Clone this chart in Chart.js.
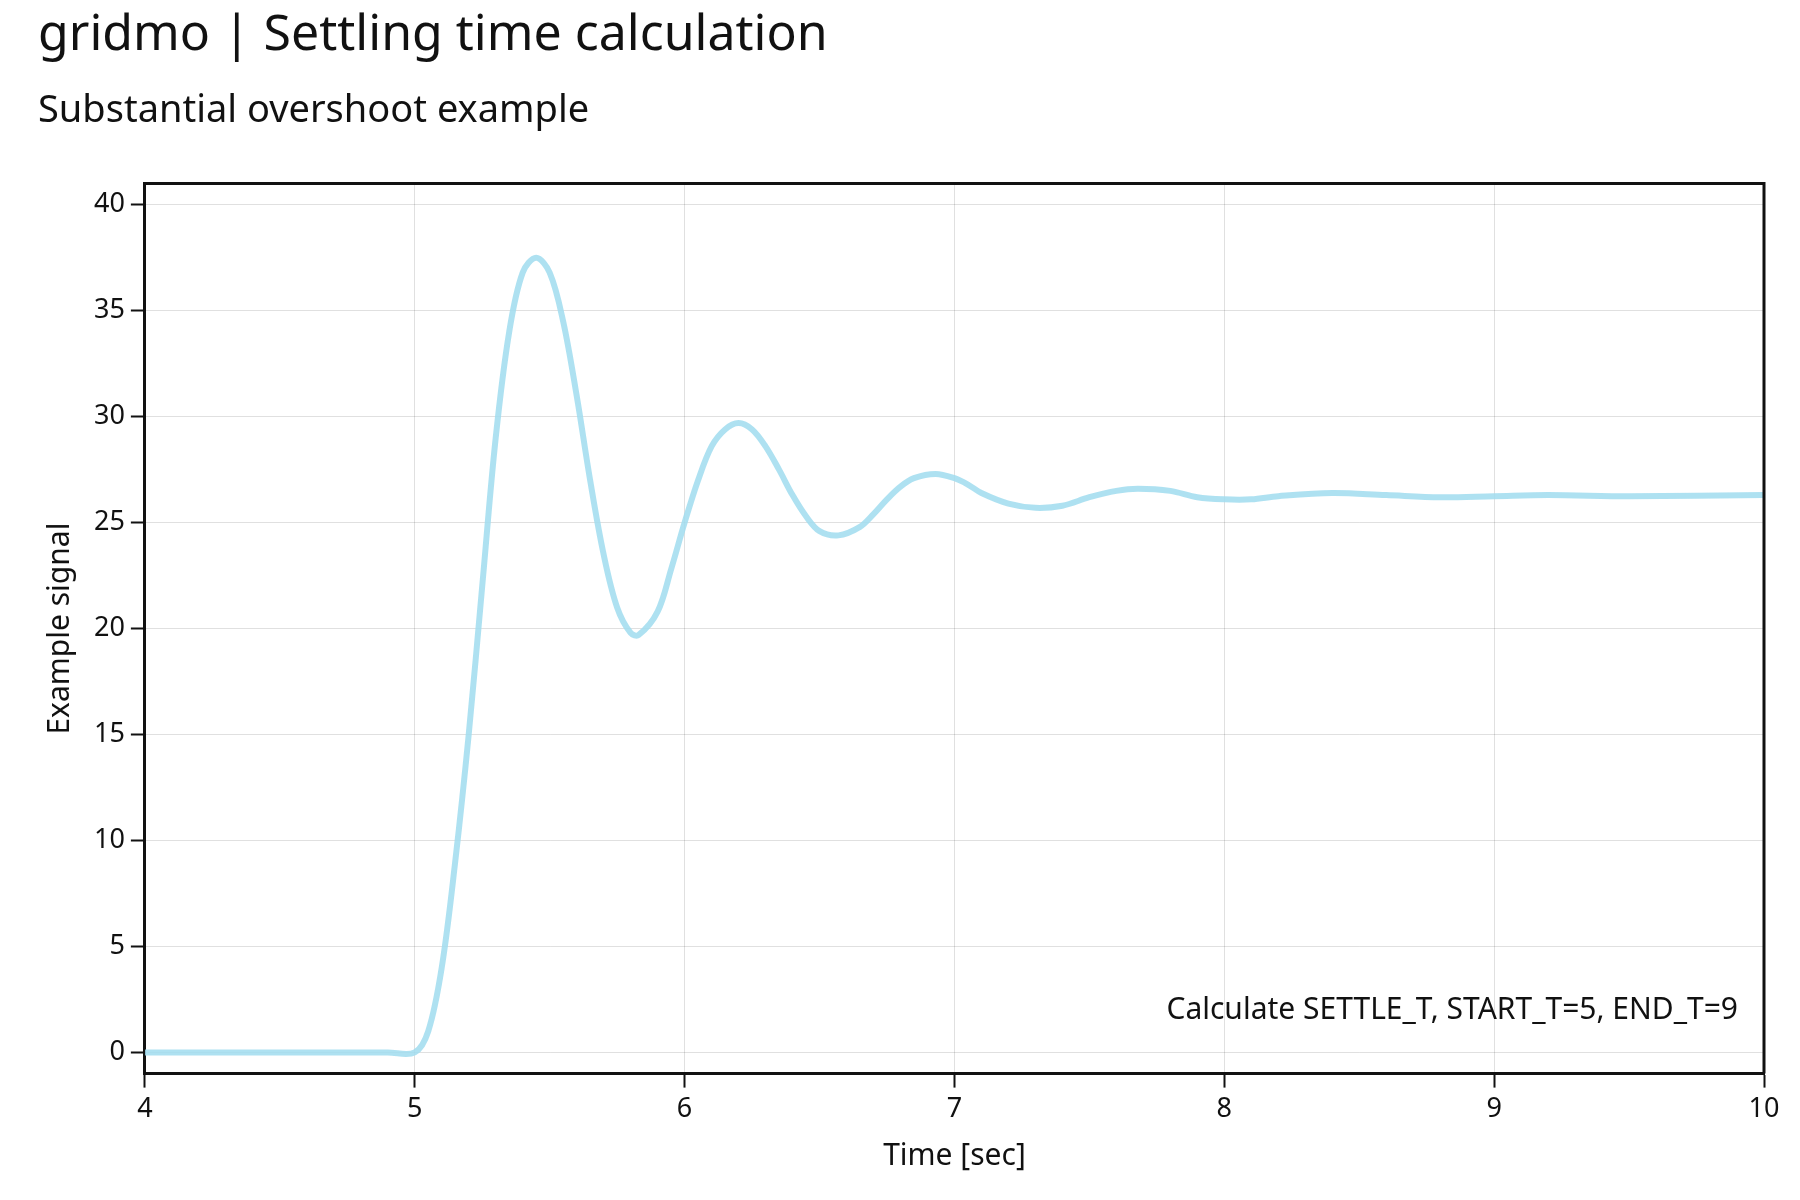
<!DOCTYPE html>
<html><head><meta charset="utf-8">
<script src="https://cdn.jsdelivr.net/npm/chart.js@4"></script>
<style>html,body{margin:0;padding:0;background:#fff}#w{width:1800px;height:1200px}</style>
</head><body><div id="w"><canvas id="c"></canvas></div>
<script>
const timeValues = [4,4.9,5,5.05,5.1,5.15,5.2,5.25,5.3,5.35,5.4,5.45,5.5,5.55,5.6,5.65,5.7,5.75,5.8,5.83,5.9,5.95,6.0,6.05,6.1,6.15,6.2,6.25,6.3,6.35,6.4,6.45,6.5,6.57,6.65,6.7,6.75,6.8,6.85,6.93,7.0,7.05,7.1,7.2,7.3,7.4,7.5,7.6,7.68,7.8,7.9,8.0,8.1,8.2,8.4,8.6,8.8,9.0,9.2,9.5,10];
const signalValues = [0,0,0,1,4,9,15,22,29,34,36.8,37.5,36.8,34.5,31,27,23.5,21,19.8,19.7,20.8,22.8,25,27,28.6,29.4,29.7,29.4,28.6,27.5,26.3,25.3,24.6,24.4,24.8,25.4,26.1,26.7,27.1,27.3,27.1,26.8,26.4,25.9,25.7,25.8,26.2,26.5,26.6,26.5,26.2,26.1,26.1,26.25,26.4,26.3,26.2,26.25,26.3,26.25,26.3];
const xTicks = [4,5,6,7,8,9,10];
const yTicks = [0,5,10,15,20,25,30,35,40];
const annotationText = "Calculate SETTLE_T, START_T=5, END_T=9";
const FONT = "'Noto Sans', sans-serif";

const annot = {id:'annot', afterDatasetsDraw(chart){
  const {ctx, chartArea} = chart;
  ctx.save(); ctx.font = "30px "+FONT; ctx.fillStyle="#111";
  ctx.textAlign="right"; ctx.textBaseline="middle";
  ctx.fillText(annotationText, chartArea.right-26, chart.scales.y.getPixelForValue(2));
  ctx.restore();
}};

new Chart(document.getElementById('c'), {
  type:'line',
  data:{datasets:[{data: timeValues.map((t,i)=>({x:t,y:signalValues[i]})),
    borderColor:'rgba(160,220,238,0.85)', borderWidth:6, pointRadius:0,
    tension:0.35, fill:false}]},
  options:{responsive:true, maintainAspectRatio:false, animation:false,
    layout:{padding:{left:38,right:36,top:0,bottom:22}},
    plugins:{legend:{display:false}, tooltip:{enabled:false},
      title:{display:true, text:'gridmo | Settling time calculation', align:'start', color:'#111',
        font:{family:FONT,size:50,weight:'normal'}, padding:{top:6,bottom:22}},
      subtitle:{display:true, text:'Substantial overshoot example', align:'start', color:'#111',
        font:{family:FONT,size:38}, padding:{bottom:50}}},
    scales:{
      x:{type:'linear', min:4, max:10,
        afterBuildTicks(s){s.ticks = xTicks.map(v=>({value:v}));},
        grid:{color:'rgba(0,0,0,0.12)', lineWidth:1, tickLength:14, tickColor:'#111', tickWidth:2, drawTicks:true},
        border:{color:'#111', width:3},
        ticks:{color:'#111', font:{family:FONT,size:27}, padding:6, maxRotation:0},
        title:{display:true, text:'Time [sec]', color:'#111', font:{family:FONT,size:30}, padding:{top:6}}},
      y:{min:-1, max:41,
        afterBuildTicks(s){s.ticks = yTicks.map(v=>({value:v}));},
        grid:{color:'rgba(0,0,0,0.12)', lineWidth:1, tickLength:14, tickColor:'#111', tickWidth:2},
        border:{color:'#111', width:3},
        ticks:{color:'#111', font:{family:FONT,size:27}, padding:6},
        title:{display:true, text:'Example signal', color:'#111', font:{family:FONT,size:30}, padding:{bottom:10}}}
    }},
  plugins:[annot, {id:'frame', afterDraw(chart){const {ctx,chartArea:a}=chart; ctx.save(); ctx.strokeStyle='#111'; ctx.lineWidth=3; ctx.beginPath(); ctx.moveTo(a.left,a.top); ctx.lineTo(a.right,a.top); ctx.lineTo(a.right,a.bottom); ctx.stroke(); ctx.restore();}}]
});
</script></body></html>
